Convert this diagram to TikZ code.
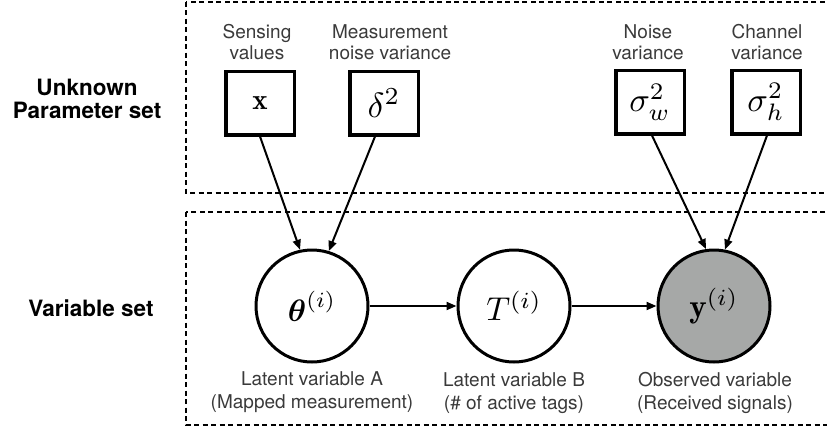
\documentclass[tikz,border=0pt]{standalone}
\usepackage{amsmath}
\usepackage{graphicx}
\usepackage{fontspec}
\newfontfamily\helv{TeX Gyre Heros}
\usetikzlibrary{arrows.meta}
\definecolor{obsgray}{RGB}{166,168,167}
\definecolor{labelgray}{RGB}{58,58,58}
% enlarged math symbol
\newcommand{\bigmath}[2]{\scalebox{#1}{$#2$}}
\begin{document}
\begin{tikzpicture}[x=1pt,y=-1pt,
  region/.style={draw=black, line width=2pt, dash pattern=on 5pt off 3.5pt},
  parbox/.style={draw, line width=3.5pt, minimum width=68.5pt, minimum height=63.5pt, inner sep=0pt, fill=white},
  rv/.style={circle, draw, line width=3pt, minimum size=112pt, inner sep=0pt, fill=white},
  obs/.style={rv, fill=obsgray},
  lbl/.style={font=\helv\fontsize{19}{21}\selectfont, text=labelgray, align=center, inner sep=0pt},
  sublbl/.style={lbl, font=\helv\fontsize{19}{23}\selectfont},
  hdr/.style={font=\helv\bfseries\fontsize{22.5}{23}\selectfont, align=center, inner sep=0pt},
  conn/.style={line width=2pt, -{Triangle[length=10pt,width=8pt]}},
]
\useasboundingbox (0,0) rectangle (827,429);

% dashed group frames (open to the right)
\draw[region] (186,1.5) rectangle (845,193);
\draw[region] (186,212) rectangle (845,425);

% group headings
\node[hdr] (hpar) at (87,98.5) {Unknown\\Parameter set};
\node[hdr] (hvar) at (91,308) {Variable set};

% parameter boxes
\node[parbox] (x)  at (260,103) {\bigmath{2.9}{\mathbf{x}}};
\node[parbox] (d)  at (384,103) {\bigmath{3.5}{\delta^2}};
\node[parbox] (sw) at (650,102) {\bigmath{3.4}{\sigma_w^2}};
\node[parbox] (sh) at (766,102) {\bigmath{3.4}{\sigma_h^2}};

\node[lbl] (lx)  at (257,42) {Sensing\\values};
\node[lbl] (ld)  at (390,42) {Measurement\\noise variance};
\node[lbl] (lsw) at (648,42) {Noise\\variance};
\node[lbl] (lsh) at (767,42) {Channel\\variance};

% random variables
\node[rv]  (th) at (312,306) {\bigmath{3.1}{\boldsymbol{\theta}^{(i)}}};
\node[rv]  (T)  at (514,306) {\bigmath{3.3}{T^{(i)}}};
\node[obs] (y)  at (714,306) {\bigmath{3.3}{\mathbf{y}^{(i)}}};

\node[sublbl] (lth) at (312,392.5) {Latent variable A\\(Mapped measurement)};
\node[sublbl] (lT)  at (514,393.5) {Latent variable B\\(\# of active tags)};
\node[sublbl] (ly)  at (715,392.5) {Observed variable\\(Received signals)};

% dependencies
\draw[conn] (x.south) -- (th.102);
\draw[conn] ([xshift=-9pt]d.south) -- (th.73);
\draw[conn] ([xshift=2pt]sw.south) -- (y.98);
\draw[conn] ([xshift=1pt]sh.south) -- (y.79);
\draw[conn] (th.east) -- (T.west);
\draw[conn] (T.east) -- (y.west);
\end{tikzpicture}
\end{document}
